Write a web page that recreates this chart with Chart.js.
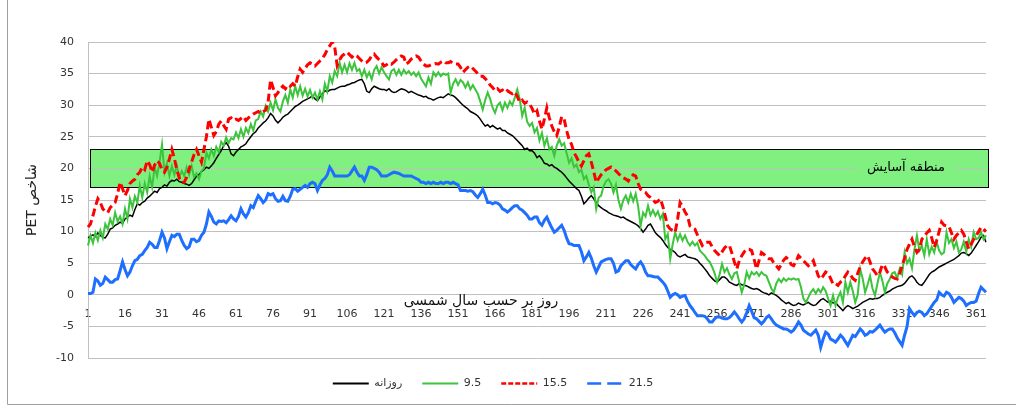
<!DOCTYPE html>
<html><head><meta charset="utf-8">
<script src="https://cdn.jsdelivr.net/npm/chart.js@4/dist/chart.umd.min.js"></script>
<style>html,body{margin:0;padding:0;background:#fff}#wrap{width:1016px;height:408px;position:relative}</style>
</head><body><div id="wrap"><canvas id="c" width="1016" height="408"></canvas></div>
<script>
// ---------- DATA ----------
const days = [];
for (let d = 1; d <= 365; d++) days.push(String(d));
const tickStep = 15;
const seriesNames = ['روزانه', '9.5', '15.5', '21.5'];

const daily = [
9.0,9.3,9.5,9.2,9.8,9.4,9.1,9.0,9.6,10.4,
10.6,11.0,11.2,11.5,11.3,12.0,12.3,12.6,12.4,13.5,
14.4,14.2,14.6,14.8,15.3,15.6,16.0,16.4,16.2,16.8,
17.0,17.4,17.2,17.8,18.1,18.0,18.3,17.9,17.8,17.6,
17.5,17.3,17.6,18.2,18.8,19.0,19.5,19.8,20.2,20.0,
20.4,20.9,21.6,22.2,22.8,23.6,24.1,23.5,22.3,22.0,
22.6,23.0,23.4,23.6,23.9,24.5,25.0,25.5,25.8,26.4,
26.8,27.2,27.5,28.0,28.7,28.3,27.6,27.2,27.6,28.1,
28.4,28.6,29.0,29.4,29.8,30.0,30.3,30.6,30.8,31.0,
31.2,31.5,31.0,30.7,31.3,31.8,32.3,32.1,32.4,32.5,
32.5,32.7,32.9,33.0,33.0,33.2,33.3,33.5,33.6,33.8,
34.0,34.1,33.4,32.2,32.0,32.6,33.0,32.8,32.6,32.5,
32.5,32.3,32.6,32.2,32.0,32.1,32.4,32.6,32.5,32.3,
32.0,32.2,32.0,31.8,31.6,31.5,31.3,31.4,31.1,31.0,
30.8,31.0,31.2,31.3,31.2,31.5,31.8,31.6,31.5,31.2,
30.8,30.4,30.0,29.7,29.4,29.0,28.8,28.6,28.3,27.8,
27.2,26.7,26.9,26.5,26.8,26.5,26.2,26.4,26.0,26.0,
25.6,25.4,25.2,24.8,24.4,24.0,23.6,23.0,23.2,22.8,
22.8,22.4,21.7,22.0,21.5,20.8,20.7,20.4,20.6,20.2,
20.0,19.7,19.4,19.0,18.5,18.0,17.6,17.2,16.8,16.5,
15.6,14.4,14.8,15.3,15.7,15.2,14.6,14.1,13.8,13.5,
13.3,13.0,12.8,12.6,12.5,12.4,12.2,12.3,12.0,11.8,
11.6,11.4,11.2,10.9,10.5,9.9,10.4,11.0,11.2,10.5,
9.8,9.4,9.1,8.6,8.0,7.5,7.2,7.0,6.7,6.2,
6.0,6.2,6.4,6.0,5.9,5.8,5.7,5.5,5.0,4.6,
4.1,3.6,3.0,2.6,2.2,2.0,2.4,2.8,2.8,2.5,
2.0,1.8,1.6,1.5,1.8,1.6,1.5,1.4,1.2,1.0,
0.9,1.0,0.8,0.5,0.3,0.2,0.0,0.3,0.1,-0.1,
-0.4,-0.8,-1.1,-1.4,-1.2,-1.5,-1.7,-1.6,-1.3,-1.5,
-1.6,-1.4,-1.2,-1.5,-1.7,-1.6,-1.2,-0.8,-0.6,-0.9,
-1.2,-1.0,-1.3,-1.2,-1.7,-2.1,-2.5,-2.0,-1.7,-1.9,
-2.2,-2.0,-1.8,-1.5,-1.2,-1.0,-0.8,-0.6,-0.7,-0.6,
-0.6,-0.4,-0.1,0.2,0.4,0.6,0.9,1.1,1.3,1.4,
1.5,1.8,2.3,2.8,3.0,2.6,2.0,1.6,1.5,2.0,
2.6,3.2,3.6,3.8,4.1,4.4,4.6,4.8,5.0,5.2,
5.4,5.6,5.9,6.2,6.6,6.7,6.5,6.2,6.6,7.2,
7.8,8.4,9.1,9.4,8.3
];

const s95 = [
7.8,9.4,8.2,9.8,8.6,10.2,9.0,11.2,10.4,12.0,
11.0,13.0,11.6,12.4,11.2,13.6,12.0,15.2,13.8,15.6,
14.6,17.3,15.4,17.6,16.2,18.8,17.0,20.2,18.8,21.0,
23.8,19.4,20.8,18.8,20.4,19.0,20.4,18.6,19.6,18.8,
20.2,19.0,20.4,18.6,19.2,18.3,19.6,20.0,22.5,21.6,
23.0,22.0,23.4,22.6,24.2,23.6,24.9,24.0,24.8,24.6,
25.7,24.8,26.2,25.0,26.4,25.6,27.0,26.0,27.6,27.8,
29.0,28.2,29.9,29.0,30.4,29.2,30.9,29.6,29.0,30.6,
31.6,30.4,32.5,31.2,33.0,31.6,33.0,31.5,32.6,31.4,
32.4,31.2,32.0,30.9,32.2,30.9,33.4,32.2,34.6,33.6,
35.4,34.6,36.7,35.2,36.4,35.2,36.6,35.6,36.7,35.4,
35.7,34.6,35.6,34.4,35.2,34.1,35.6,36.2,35.0,36.0,
35.2,34.6,34.1,35.4,35.7,34.8,35.6,34.8,35.6,35.0,
35.4,34.8,35.2,34.6,35.2,34.2,33.6,33.0,34.4,33.4,
35.2,34.6,35.2,34.6,35.0,34.8,35.0,32.0,33.4,34.1,
33.2,34.0,33.6,32.8,33.6,32.5,33.2,32.5,31.8,30.6,
29.3,30.8,32.0,31.0,29.6,28.8,30.0,30.4,29.2,30.4,
29.6,30.6,30.0,31.2,32.5,31.0,28.3,29.6,27.4,26.7,
27.2,25.7,26.4,24.4,25.6,23.6,24.8,23.0,23.4,22.0,
23.6,24.6,23.6,24.0,22.4,20.9,21.6,20.2,20.6,19.4,
19.8,18.3,18.8,17.4,16.2,17.0,13.6,15.4,15.7,17.2,
18.0,18.3,17.6,16.2,17.4,15.0,13.6,15.0,15.7,14.6,
16.0,14.8,16.0,14.0,10.9,13.0,12.4,14.1,12.6,13.4,
12.5,13.2,12.0,12.8,8.8,9.6,5.7,8.0,9.9,8.6,
9.6,8.6,9.4,8.4,7.8,8.4,7.8,8.2,7.0,6.6,
6.2,5.6,5.2,4.4,3.4,2.0,3.2,4.9,3.6,4.2,
3.2,2.5,3.4,3.6,2.0,0.4,1.6,3.6,2.6,3.6,
3.2,3.6,3.0,3.6,3.2,3.0,2.0,1.0,0.4,1.8,
2.5,2.0,2.6,2.2,2.6,2.4,2.6,2.4,2.5,1.2,
-0.6,-1.2,-0.4,0.4,0.9,0.2,0.9,0.4,1.2,0.6,
-0.6,-1.7,-0.1,-1.7,-0.4,0.4,-1.2,2.0,0.4,2.0,
0.6,-1.2,0.0,4.1,2.6,0.4,1.6,3.0,1.0,-0.1,
1.8,3.6,2.2,0.4,1.8,2.5,3.4,3.6,2.6,4.1,
3.2,6.7,5.0,5.7,4.2,7.2,9.4,7.0,7.8,6.2,
8.8,6.4,7.6,6.7,8.4,7.0,6.4,6.7,9.9,8.2,
8.8,7.4,8.4,6.7,7.2,8.4,6.8,8.8,7.6,9.9,
8.8,9.0,9.9,8.8,9.4
];

const s155 = [
10.7,11.2,12.5,14.0,15.2,14.6,13.6,13.2,13.0,13.8,
14.2,14.6,16.0,17.8,16.8,15.7,16.5,17.6,18.0,18.3,
19.0,19.4,20.2,19.8,21.2,20.6,19.4,20.5,21.2,20.8,
19.8,19.4,20.2,21.5,23.0,21.6,19.8,18.5,17.8,17.8,
18.6,19.9,21.0,22.2,23.0,22.0,21.0,23.0,25.0,27.8,
26.5,25.2,25.8,27.0,27.5,26.8,26.2,27.8,28.0,27.6,
27.8,27.6,27.9,28.2,27.6,28.0,28.3,28.6,28.8,29.0,
28.7,29.0,29.2,30.5,34.0,32.8,31.5,32.0,32.6,33.0,
32.6,33.2,33.0,33.4,33.0,34.5,35.7,35.2,35.8,36.4,
36.7,36.5,36.2,36.6,37.0,37.4,38.0,38.8,39.4,40.0,
39.2,36.3,37.2,37.8,38.1,38.4,38.0,37.6,38.0,37.8,
37.4,37.0,36.7,36.8,37.2,37.8,38.1,37.6,37.2,36.8,
36.2,36.4,36.7,36.5,36.8,37.2,37.5,37.8,37.6,36.5,
36.8,37.3,37.6,37.8,37.6,37.0,36.5,36.2,36.2,36.4,
36.5,36.6,36.5,36.8,37.0,36.7,36.7,36.9,36.6,36.5,
36.5,36.0,35.2,35.6,36.0,36.2,35.8,35.4,35.0,34.6,
34.6,34.2,33.8,33.2,32.8,32.3,32.6,32.2,32.4,32.0,
32.3,32.0,31.8,32.1,31.4,30.5,30.8,30.3,30.5,30.2,
29.5,28.6,29.1,27.5,26.2,27.8,29.6,28.0,26.7,25.8,
25.2,26.5,28.2,27.8,26.0,24.6,23.8,22.5,21.8,21.0,
20.4,21.2,22.0,22.3,21.0,19.5,17.8,18.4,19.0,19.4,
19.8,20.0,20.2,19.9,19.6,19.2,18.8,18.5,18.3,18.0,
18.6,19.0,18.8,17.6,16.7,16.4,16.2,15.7,15.4,15.0,
14.6,14.8,15.2,14.0,12.4,10.9,10.4,10.2,9.9,12.0,
14.6,14.0,13.1,12.5,10.9,10.6,10.4,9.5,8.6,7.8,
8.2,8.3,8.3,7.6,7.0,6.6,6.2,6.8,7.4,7.8,
7.8,6.6,5.2,4.1,5.4,6.2,6.8,7.2,7.2,7.0,
5.6,4.1,5.4,6.7,6.4,6.0,5.7,5.7,5.0,4.6,
4.1,4.8,5.5,5.9,5.6,4.8,4.6,5.3,6.2,5.8,
5.4,5.0,4.6,4.9,5.4,4.2,3.0,2.5,3.0,3.6,
3.4,2.6,1.7,1.8,1.5,2.0,2.3,3.0,3.6,3.2,
2.6,2.3,3.4,4.4,5.2,5.8,6.2,5.2,4.1,3.6,
3.0,3.6,4.8,4.4,3.6,3.2,2.8,2.6,2.5,3.4,
4.6,5.8,7.2,8.0,8.8,7.6,6.7,7.2,8.8,9.2,
9.8,10.2,9.0,7.5,8.6,10.0,11.5,11.0,10.9,10.8,
9.8,8.8,9.4,9.8,10.2,9.6,8.4,7.3,8.0,8.8,
9.4,10.0,10.7,10.4,10.0
];

const s215 = [
0.2,0.2,0.4,2.5,2.2,1.5,1.8,2.8,2.4,2.0,
2.0,2.4,2.5,3.8,5.2,4.0,3.0,3.6,4.6,5.4,
5.6,6.2,6.4,7.0,7.5,8.3,8.0,7.5,7.5,8.6,
9.9,9.0,7.3,8.4,9.4,9.2,9.6,9.6,8.6,7.8,
7.3,7.6,8.8,8.8,8.4,8.6,9.4,9.9,11.2,13.1,
12.4,11.5,11.2,11.7,11.6,11.7,11.4,11.9,12.5,12.0,
11.7,12.4,13.6,12.8,12.3,13.0,14.1,13.8,14.8,15.7,
15.2,14.6,15.0,16.0,15.8,16.0,15.2,14.8,14.9,15.6,
14.9,14.8,15.6,16.7,16.8,16.4,16.7,17.0,17.3,17.0,
17.6,17.8,17.6,16.5,17.4,18.1,18.4,19.0,20.2,19.6,
18.8,18.8,18.8,18.8,18.8,18.8,19.0,19.6,20.2,19.4,
18.8,18.8,18.1,19.0,20.2,20.2,20.0,19.8,19.4,18.8,
18.8,18.8,19.0,19.2,19.4,19.3,19.2,19.0,18.8,18.8,
18.8,18.8,18.6,18.4,18.2,17.8,17.8,17.6,17.8,17.6,
17.8,17.6,17.6,17.8,17.6,17.8,17.8,17.6,17.8,17.6,
17.4,16.5,16.5,16.5,16.4,16.5,16.3,15.8,15.4,16.0,
16.7,15.8,14.6,14.6,14.4,14.6,14.5,14.2,13.6,13.4,
13.1,13.4,13.8,14.1,14.1,13.6,13.4,13.0,12.6,12.0,
12.0,12.3,12.3,11.4,11.0,11.8,12.3,11.4,10.6,9.9,
10.2,10.6,11.0,10.2,9.0,8.1,8.0,7.8,7.8,7.8,
6.8,5.4,6.0,6.7,5.8,4.6,3.6,4.4,5.2,5.4,
5.6,5.7,5.7,5.0,3.6,3.8,4.6,5.0,5.4,5.4,
4.8,4.4,4.1,4.8,5.2,4.6,3.6,3.0,3.0,2.9,
2.8,2.8,2.4,2.0,1.5,0.6,-0.4,0.0,0.2,0.0,
-0.4,-0.2,-0.1,-1.0,-1.7,-2.2,-2.8,-3.3,-3.3,-3.3,
-3.4,-3.8,-4.3,-4.3,-3.8,-3.5,-3.5,-3.7,-3.8,-3.8,
-3.6,-3.2,-2.7,-3.2,-3.8,-4.3,-3.8,-2.8,-1.7,-2.6,
-3.6,-3.8,-4.2,-4.6,-4.2,-3.6,-3.3,-3.8,-4.4,-4.8,
-5.0,-5.2,-5.4,-5.4,-5.6,-5.9,-5.6,-5.0,-4.3,-4.8,
-5.6,-5.9,-6.2,-6.4,-6.0,-5.6,-6.4,-8.3,-7.0,-5.9,
-6.2,-7.0,-7.2,-7.5,-7.0,-6.4,-6.8,-7.4,-8.0,-7.2,
-6.4,-6.6,-6.0,-5.4,-5.8,-6.4,-6.2,-5.8,-5.9,-5.6,
-5.2,-4.8,-5.4,-5.9,-5.6,-5.4,-5.4,-6.0,-6.8,-7.4,
-8.0,-6.4,-5.0,-2.2,-2.8,-3.3,-2.8,-2.6,-2.8,-3.3,
-3.0,-2.4,-1.8,-1.2,-0.8,0.4,0.0,-0.2,0.4,0.2,
-0.4,-1.2,-0.8,-0.4,-0.6,-1.0,-1.7,-1.4,-1.2,-1.2,
-1.0,0.2,1.2,0.8,0.4
];

const yMin = -10, yMax = 40, yStep = 5;
const comfortLow = 17, comfortHigh = 23, comfortMid = 20;
const comfortLabel = 'منطقه آسایش';
const xTitle = 'روز بر حسب سال شمسی';
const yTitle = 'PET شاخص';

// ---------- STYLE ----------
const FONT = "'DejaVu Sans', sans-serif";
const GRID = '#c0c0c0';
const colors = ['#000000', '#3cc43c', '#ff0000', '#1f6fff'];
const widths = [1.5, 2, 3, 3];
const dashes = [[], [], [8, 4], []];
const legendDashes = [[], [], [5, 2], [14, 6]];
const legendWidths = [2, 2, 2.5, 2.5];

const comfortPlugin = {
  id: 'comfort',
  beforeDatasetsDraw(chart) {
    const {ctx, chartArea, scales: {y}} = chart;
    const top = y.getPixelForValue(comfortHigh);
    const bot = y.getPixelForValue(comfortLow);
    const left = chartArea.left + 2, right = chartArea.right + 2;
    ctx.save();
    ctx.fillStyle = '#80f080';
    ctx.fillRect(left, top, right - left, bot - top);
    ctx.strokeStyle = '#000';
    ctx.lineWidth = 1;
    ctx.strokeRect(Math.round(left) + 0.5, Math.round(top) + 0.5, Math.round(right - left), Math.round(bot - top));
    const gy = Math.round(y.getPixelForValue(comfortMid)) + 0.5;
    ctx.strokeStyle = GRID;
    ctx.beginPath(); ctx.moveTo(left + 1, gy); ctx.lineTo(right - 1, gy); ctx.stroke();
    ctx.font = '13px ' + FONT;
    ctx.textAlign = 'center'; ctx.textBaseline = 'middle';
    const tx = 906, tw = ctx.measureText(comfortLabel).width;
    ctx.fillStyle = '#80f080';
    ctx.fillRect(tx - tw / 2 - 10, gy - 8, tw + 20, 16);
    ctx.fillStyle = '#000';
    ctx.fillText(comfortLabel, tx, gy - 1);
    ctx.restore();
  },
  afterDraw(chart) {
    const {ctx, scales: {x, y}} = chart;
    ctx.save();
    ctx.font = '14px ' + FONT;
    ctx.fillStyle = '#111';
    ctx.textAlign = 'center'; ctx.textBaseline = 'middle';
    ctx.fillText(xTitle, 481, y.getPixelForValue(0) + 7);
    ctx.strokeStyle = '#a0a0a0'; ctx.lineWidth = 1;
    ctx.beginPath();
    ctx.moveTo(7.5, 0); ctx.lineTo(7.5, 404.5); ctx.lineTo(1016, 404.5);
    ctx.stroke();
    ctx.restore();
  }
};

new Chart(document.getElementById('c'), {
  type: 'line',
  data: {
    labels: days,
    datasets: [daily, s95, s155, s215].map((arr, i) => ({
      label: seriesNames[i],
      data: arr,
      borderColor: colors[i],
      backgroundColor: colors[i],
      borderWidth: widths[i],
      borderDash: dashes[i],
      pointRadius: 0,
      tension: 0,
      fill: false,
      order: 4 - i
    }))
  },
  options: {
    responsive: false,
    animation: false,
    devicePixelRatio: 1,
    layout: {padding: {left: 0, right: 30, top: 42, bottom: 9}},
    scales: {
      x: {
        type: 'category',
        position: {y: 0},
        offset: false,
        grid: {display: false, drawTicks: false},
        border: {display: false},
        ticks: {
          autoSkip: false, maxRotation: 0, minRotation: 0, padding: 13,
          color: '#333', font: {family: FONT, size: 11},
          callback: (v, i) => (i % tickStep === 0 ? days[i] : '')
        }
      },
      y: {
        min: yMin, max: yMax,
        ticks: {stepSize: yStep, color: '#333', font: {family: FONT, size: 11}, padding: 14},
        grid: {color: GRID, drawTicks: false},
        border: {display: true, color: GRID},
        title: {display: true, text: yTitle, color: '#222', font: {family: FONT, size: 14}, padding: {top: 24, bottom: 0}},
        afterFit(s) { s.width = 88; }
      }
    },
    plugins: {
      tooltip: {enabled: false},
      legend: {
        position: 'bottom',
        labels: {
          usePointStyle: true, pointStyleWidth: 36, padding: 20,
          color: '#333', font: {family: FONT, size: 11},
          generateLabels(chart) {
            return chart.data.datasets.map((ds, i) => ({
              text: ds.label, fillStyle: colors[i], strokeStyle: colors[i],
              lineWidth: legendWidths[i], lineDash: legendDashes[i], pointStyle: 'line',
              datasetIndex: i, hidden: false, fontColor: '#333'
            }));
          }
        }
      }
    }
  },
  plugins: [comfortPlugin]
});
</script>
</body></html>
